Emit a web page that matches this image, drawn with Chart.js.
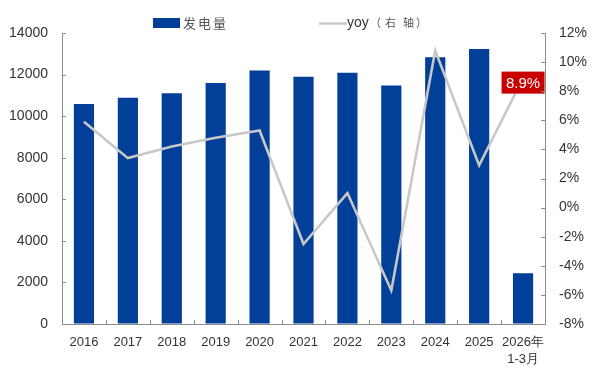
<!DOCTYPE html>
<html><head><meta charset="utf-8">
<script src="https://cdn.jsdelivr.net/npm/chart.js@4"></script>
<style>html,body{margin:0;padding:0;background:#fff}#wrap{width:597px;height:373px}</style>
</head><body><div id="wrap"><canvas id="c" width="597" height="373"></canvas></div>
<script>
const categories = ['2016','2017','2018','2019','2020','2021','2022','2023','2024','2025',['2026年','1-3月']];
const generation = [10580,10890,11100,11600,12200,11900,12090,11480,12830,13230,2440];
const yoy = [5.9,3.4,4.2,4.8,5.3,-2.5,1.0,-5.7,10.8,2.9,8.9];
const leftTicks = {min:0, max:14000, step:2000};
const rightTicks = {min:-8, max:12, step:2};
const barLabel = '发电量';
const lineLabel = 'yoy';
const lineLabelSuffix = '（右轴）';

const BAR_COLOR = '#023f98';
const LINE_COLOR = '#c8c8c8';
const AXIS_COLOR = '#8c8c8c';
const TEXT_COLOR = '#333333';

const innerTicks = {
  id:'innerTicks',
  afterDraw(chart){
    const ctx = chart.ctx, a = chart.chartArea;
    ctx.save();
    ctx.strokeStyle = AXIS_COLOR; ctx.lineWidth = 1;
    const y = chart.scales.y, y1 = chart.scales.y1, x = chart.scales.x;
    ctx.beginPath();
    y.ticks.forEach(t=>{const p=Math.round(y.getPixelForValue(t.value))+0.5; ctx.moveTo(a.left,p); ctx.lineTo(a.left+4,p);});
    y1.ticks.forEach(t=>{const p=Math.round(y1.getPixelForValue(t.value))+0.5; ctx.moveTo(a.right,p); ctx.lineTo(a.right-4,p);});
    for(let i=0;i<categories.length-1;i++){
      const p=Math.round((x.getPixelForValue(i)+x.getPixelForValue(i+1))/2)+0.5;
      ctx.moveTo(p,a.bottom); ctx.lineTo(p,a.bottom-4);
    }
    ctx.stroke();
    ctx.restore();
  }
};

const lastLabel = {
  id:'lastLabel',
  afterDatasetsDraw(chart){
    const meta = chart.getDatasetMeta(1);
    const pt = meta.data[meta.data.length-1];
    const v = yoy[yoy.length-1];
    const ctx = chart.ctx;
    ctx.save();
    const w=43, h=22, cx=pt.x, cy=pt.y+4.5;
    ctx.fillStyle='#c80000';
    ctx.fillRect(cx-w/2, cy-h/2, w, h);
    ctx.fillStyle='#ffffff';
    ctx.font='15px "Liberation Sans", Arial, sans-serif';
    ctx.textAlign='center'; ctx.textBaseline='middle';
    ctx.fillText(v.toFixed(1)+'%', cx, cy+1);
    ctx.restore();
  }
};

const customLegend = {
  id:'customLegend',
  afterDraw(chart){
    const ctx = chart.ctx;
    ctx.save();
    ctx.fillStyle = BAR_COLOR;
    ctx.fillRect(153, 18, 27, 10);
    ctx.fillStyle = '#555555';
    ctx.font = '13px "Noto Sans CJK SC", sans-serif';
    ctx.textBaseline = 'middle'; ctx.textAlign='left';
    let xx = 183;
    for (const ch of barLabel){ ctx.fillText(ch, xx, 23); xx += 15; }
    ctx.strokeStyle = LINE_COLOR; ctx.lineWidth = 2.5;
    ctx.beginPath(); ctx.moveTo(319, 23.5); ctx.lineTo(347, 23.5); ctx.stroke();
    ctx.fillStyle = TEXT_COLOR;
    ctx.font = '14px "Liberation Sans", Arial, sans-serif';
    ctx.fillText(lineLabel, 347, 23);
    ctx.fillStyle = '#555555';
    ctx.font = '11px "Noto Sans CJK SC", sans-serif';
    const pos = [370, 385, 403, 416];
    [...lineLabelSuffix].forEach((ch,i)=>ctx.fillText(ch, pos[i], 23));
    ctx.restore();
  }
};

new Chart(document.getElementById('c'), {
  data:{
    labels: categories,
    datasets:[
      {type:'bar', label:barLabel, data:generation, backgroundColor:BAR_COLOR, yAxisID:'y',
       categoryPercentage:1, barPercentage:0.46, order:2},
      {type:'line', label:lineLabel+lineLabelSuffix, data:yoy, borderColor:LINE_COLOR, borderWidth:2.6,
       pointRadius:0, tension:0, yAxisID:'y1', order:1}
    ]
  },
  options:{
    responsive:false, animation:false, devicePixelRatio:1,
    layout:{padding:{top:33,left:0,right:0,bottom:0}},
    plugins:{legend:{display:false}, tooltip:{enabled:false}},
    scales:{
      x:{
        grid:{display:true, drawOnChartArea:false, drawTicks:false, offset:true},
        border:{display:true, color:AXIS_COLOR, width:1},
        ticks:{color:TEXT_COLOR, padding:10, maxRotation:0, autoSkip:false,
               font:{family:'"Liberation Sans", Arial, sans-serif', size:13, lineHeight:1.3}},
        afterFit(s){ s.height = 49; }
      },
      y:{
        position:'left', min:leftTicks.min, max:leftTicks.max,
        grid:{display:true, drawOnChartArea:false, drawTicks:false},
        border:{display:true, color:AXIS_COLOR, width:1},
        ticks:{stepSize:leftTicks.step, color:TEXT_COLOR, padding:14,
               callback:v=>String(v),
               font:{family:'"Liberation Sans", Arial, sans-serif', size:14}},
        afterFit(s){ s.width = 62; }
      },
      y1:{
        position:'right', min:rightTicks.min, max:rightTicks.max,
        grid:{display:true, drawOnChartArea:false, drawTicks:false},
        border:{display:true, color:AXIS_COLOR, width:1},
        ticks:{stepSize:rightTicks.step, color:TEXT_COLOR, padding:14,
               callback:v=>v+'%',
               font:{family:'"Liberation Sans", Arial, sans-serif', size:14}},
        afterFit(s){ s.width = 52; }
      }
    }
  },
  plugins:[innerTicks, lastLabel, customLegend]
});
</script></body></html>
